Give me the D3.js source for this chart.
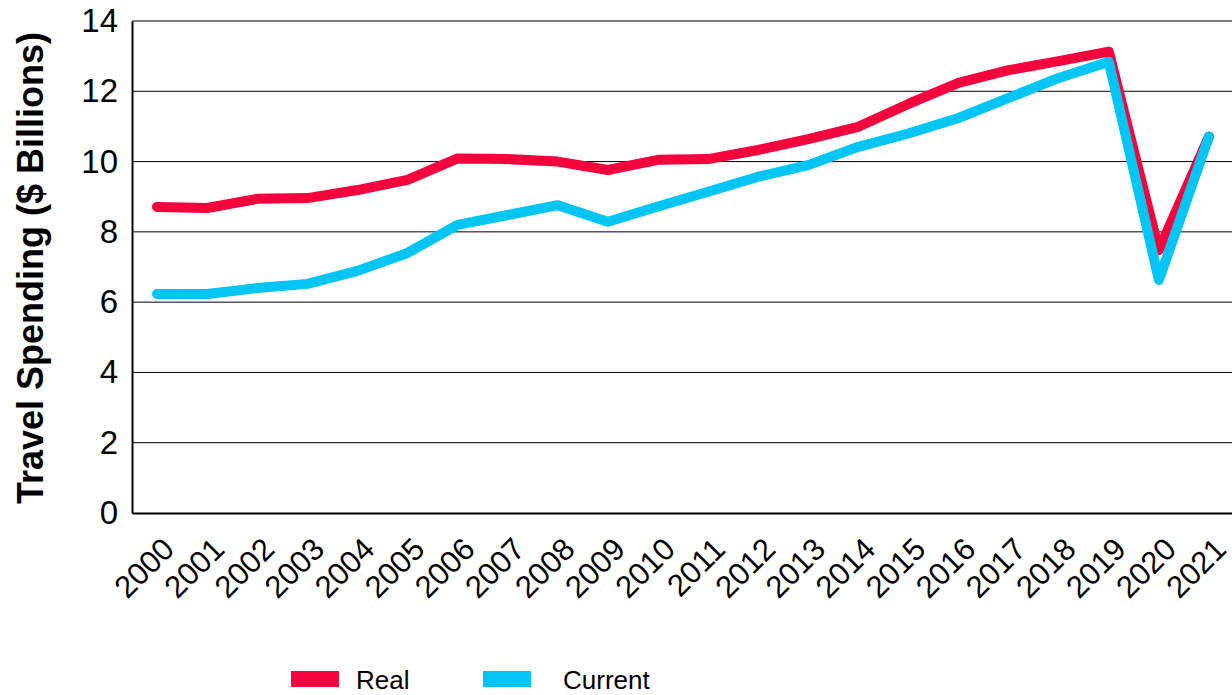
<!DOCTYPE html>
<html>
<head>
<meta charset="utf-8">
<script src="https://cdn.jsdelivr.net/npm/d3@7"></script>
<style>
  body { margin: 0; background: #fff; }
  svg { display: block; font-family: "Liberation Sans", Arial, sans-serif; }
</style>
</head>
<body>
<div id="chart"></div>
<script>
/* chart data */
const years = ["2000","2001","2002","2003","2004","2005","2006","2007","2008","2009","2010",
  "2011","2012","2013","2014","2015","2016","2017","2018","2019","2020","2021"];
const realValues = [8.71, 8.68, 8.94, 8.96, 9.19, 9.48, 10.09, 10.07, 10.0, 9.76, 10.05,
  10.07, 10.33, 10.64, 10.99, 11.64, 12.24, 12.6, 12.86, 13.13, 7.48, 10.71];
const currentValues = [6.23, 6.23, 6.40, 6.52, 6.89, 7.40, 8.2, 8.48, 8.76, 8.29, 8.72,
  9.14, 9.57, 9.90, 10.42, 10.8, 11.24, 11.81, 12.38, 12.84, 6.63, 10.71];
const yTicks = [0, 2, 4, 6, 8, 10, 12, 14];
const seriesNames = ["Real", "Current"];
const seriesColors = ["#f5033c", "#00c5f5"];

const width = 1232, height = 695;
const margin = { top: 21, right: -2, bottom: 182, left: 132 };

const svg = d3.select("#chart")
  .append("svg")
  .attr("width", width)
  .attr("height", height);

/* scales */
const x = d3.scaleBand()
  .domain(years)
  .range([margin.left, width - margin.right]);

const y = d3.scaleLinear()
  .domain([0, 14])
  .range([height - margin.bottom, margin.top]);

/* horizontal grid lines */
svg.append("g")
  .attr("class", "grid")
  .selectAll("line")
  .data(yTicks.filter(d => d > 0))
  .enter().append("line")
    .attr("x1", margin.left)
    .attr("x2", width)
    .attr("y1", d => y(d))
    .attr("y2", d => y(d))
    .attr("stroke", "#000")
    .attr("stroke-width", 1);

/* y axis */
const yAxis = svg.append("g")
  .attr("transform", `translate(${margin.left},0)`)
  .call(d3.axisLeft(y).tickValues(yTicks).tickSize(0).tickPadding(14));
yAxis.select(".domain").attr("stroke", "#000").attr("stroke-width", 2);
yAxis.selectAll("text")
  .attr("font-size", "33px")
  .attr("font-family", "Liberation Sans, Arial, sans-serif")
  .attr("fill", "#000");

/* x axis, labels turned 45 degrees */
const xAxis = svg.append("g")
  .attr("transform", `translate(0,${y(0)})`)
  .call(d3.axisBottom(x).tickSize(0).tickPadding(0));
xAxis.select(".domain").attr("stroke", "#000").attr("stroke-width", 2);
xAxis.selectAll("text")
  .attr("font-size", "31px")
  .attr("font-family", "Liberation Sans, Arial, sans-serif")
  .attr("fill", "#000")
  .attr("text-anchor", "end")
  .attr("y", 0)
  .attr("dy", 0)
  .attr("transform", "translate(19,38) rotate(-45)");

/* y axis title */
svg.append("text")
  .attr("transform", `translate(43,268) rotate(-90)`)
  .attr("text-anchor", "middle")
  .attr("font-size", "36px")
  .attr("font-weight", "bold")
  .attr("fill", "#000")
  .text("Travel Spending ($ Billions)");

/* lines */
const line = d3.line()
  .x((d, i) => x(years[i]) + x.bandwidth() / 2)
  .y(d => y(d));

[realValues, currentValues].forEach((values, i) => {
  svg.append("path")
    .datum(values)
    .attr("fill", "none")
    .attr("stroke", seriesColors[i])
    .attr("stroke-width", 10)
    .attr("stroke-linecap", "round")
    .attr("stroke-linejoin", "round")
    .attr("d", line);
});

/* legend */
const legendX = [291, 483];
const legend = svg.append("g").attr("class", "legend");
seriesNames.forEach((name, i) => {
  legend.append("rect")
    .attr("x", legendX[i])
    .attr("y", 671)
    .attr("width", 48)
    .attr("height", 16)
    .attr("fill", seriesColors[i]);
  legend.append("text")
    .attr("x", legendX[i] + (i === 0 ? 65 : 80))
    .attr("y", 689)
    .attr("font-size", "26px")
    .attr("fill", "#000")
    .text(name);
});
</script>
</body>
</html>
